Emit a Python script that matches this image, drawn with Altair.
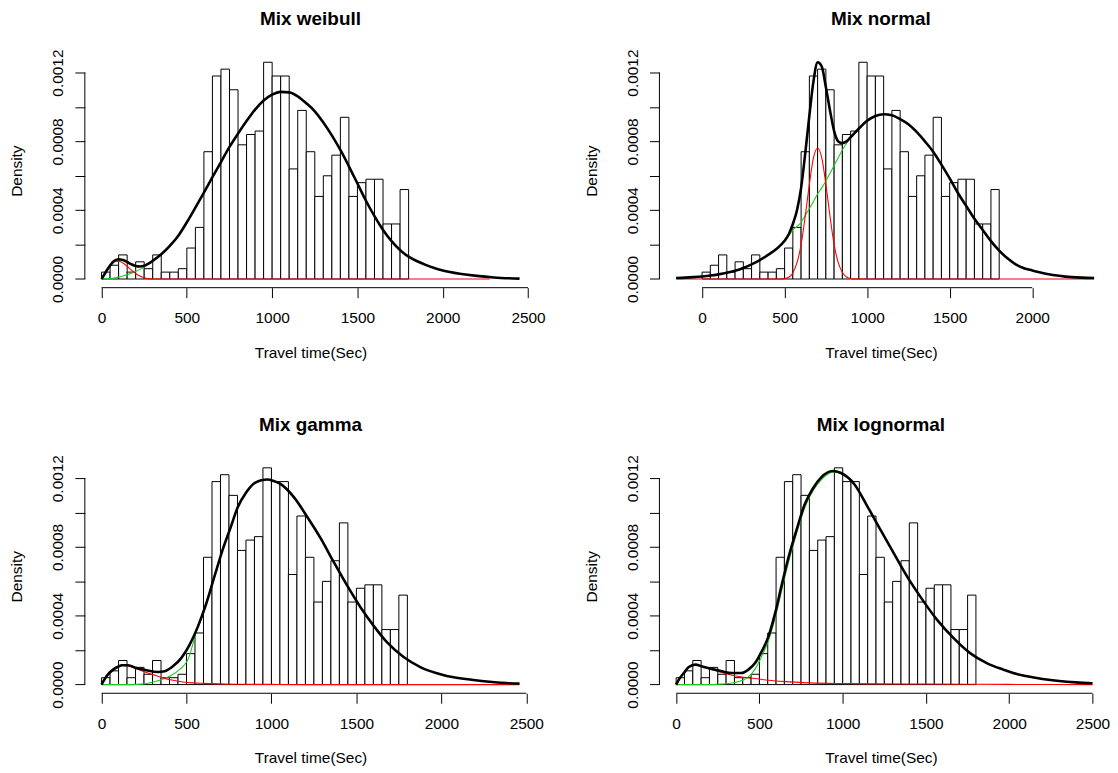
import altair as alt
import pandas as pd

# ---------------- histogram (same data in all four panels) ----------------
bin_start = [0, 50, 100, 150, 200, 250, 300, 350, 400, 450, 500, 550, 600, 650, 700, 750,
             800, 850, 900, 950, 1000, 1050, 1100, 1150, 1200, 1250, 1300, 1350, 1400, 1450,
             1500, 1550, 1600, 1650, 1700, 1750]
bin_width = 50
hist_density = [0.4, 0.8, 1.4, 0.4, 1.0, 0.6, 1.4, 0.4, 0.4, 0.6, 1.8, 3.0, 7.4, 11.8, 12.2,
                11.0, 7.8, 8.4, 8.6, 12.6, 11.8, 11.8, 6.4, 9.8, 7.4, 4.8, 6.0, 7.2, 9.4, 4.8,
                5.6, 5.8, 5.8, 3.2, 3.2, 5.2]  # x 1e-4

# ---------------- Mix weibull ----------------
p1_black_x = [0, 25, 50, 75, 100, 125, 150, 175, 200, 225, 250, 275, 300, 350, 400, 450, 500,
              550, 600, 650, 700, 750, 800, 850, 900, 950, 1000, 1050, 1100, 1150, 1200, 1250,
              1300, 1350, 1400, 1450, 1500, 1550, 1600, 1650, 1700, 1750, 1800, 1850, 1900,
              1950, 2000, 2100, 2200, 2300, 2450]
p1_black = [0, 0.41, 0.79, 1.06, 1.15, 1.10, 0.99, 0.86, 0.76, 0.73, 0.77, 0.89, 1.06, 1.44,
            1.93, 2.52, 3.30, 4.15, 5.02, 5.92, 6.80, 7.68, 8.45, 9.18, 9.85, 10.38, 10.72,
            10.88, 10.85, 10.62, 10.22, 9.75, 9.1, 8.35, 7.5, 6.55, 5.55, 4.55, 3.65, 2.85,
            2.2, 1.68, 1.3, 1.03, 0.82, 0.64, 0.5, 0.31, 0.18, 0.09, 0.02]
p1_red_x = [0, 25, 50, 75, 100, 125, 150, 175, 200, 225, 250, 275, 300, 2275]
p1_red = [0, 0.40, 0.76, 1.00, 1.04, 0.93, 0.74, 0.52, 0.32, 0.17, 0.07, 0.02, 0, 0]
p1_green_x = p1_black_x
p1_green = [0, 0.01, 0.03, 0.06, 0.11, 0.17, 0.25, 0.34, 0.44, 0.56, 0.70, 0.87, 1.06] + p1_black[13:]

# ---------------- Mix normal ----------------
p2_black_x = [-157, -100, -50, 0, 50, 100, 150, 200, 250, 300, 350, 400, 450, 500, 525, 550,
              575, 600, 625, 650, 675, 700, 725, 750, 775, 800, 825, 850, 875, 900, 950, 1000,
              1050, 1100, 1150, 1200, 1250, 1300, 1350, 1400, 1450, 1500, 1550, 1600, 1650,
              1700, 1750, 1800, 1850, 1900, 1950, 2000, 2050, 2100, 2150, 2200, 2300, 2375]
p2_black = [0.06, 0.08, 0.11, 0.15, 0.2, 0.27, 0.36, 0.48, 0.64, 0.85, 1.1, 1.4, 1.75, 2.22,
            2.6, 3.2, 4.0, 5.3, 7.3, 9.5, 11.5, 12.6, 12.35, 11.15, 9.8, 8.6, 8.0, 7.9, 8.0,
            8.24, 8.75, 9.2, 9.48, 9.58, 9.52, 9.3, 9.0, 8.55, 8.0, 7.4, 6.65, 5.85, 5.0, 4.25,
            3.5, 2.85, 2.2, 1.65, 1.2, 0.85, 0.63, 0.5, 0.38, 0.28, 0.2, 0.14, 0.08, 0.06]
p2_red_x = [-157, 475, 500, 525, 550, 575, 600, 625, 650, 675, 700, 725, 750, 775, 800, 825,
            850, 875, 900, 925, 2375]
p2_red = [0, 0, 0.02, 0.1, 0.35, 0.95, 2.0, 3.65, 5.5, 7.05, 7.6, 7.05, 5.5, 3.65, 2.0, 0.95,
          0.38, 0.12, 0.03, 0, 0]
p2_green_x = p2_black_x
p2_green = p2_black[:13] + [2.2, 2.5, 2.85, 3.05, 3.3, 3.7, 4.1, 4.5, 4.95, 5.3, 5.7, 6.15,
                            6.6, 7.05, 7.5, 7.88, 8.2] + p2_black[30:]

# ---------------- Mix gamma ----------------
p3_black_x = [0, 29, 68, 100, 120, 156, 205, 264, 332, 371, 420, 469, 518, 567, 616, 665, 713,
              762, 801, 850, 899, 940, 977, 1010, 1055, 1133, 1212, 1290, 1368, 1446, 1524,
              1603, 1681, 1778, 1876, 1974, 2032, 2100, 2200, 2300, 2400, 2460]
p3_black = [0, 0.48, 0.87, 1.05, 1.12, 1.12, 0.96, 0.83, 0.73, 0.77, 1.06, 1.54, 2.31, 3.37,
            4.7, 6.3, 7.85, 9.2, 10.3, 11.15, 11.7, 11.88, 11.92, 11.85, 11.65, 10.88, 9.73,
            8.5, 7.1, 5.75, 4.5, 3.4, 2.45, 1.6, 1.02, 0.66, 0.5, 0.38, 0.25, 0.15, 0.08, 0.06]
p3_red_x = [0, 29, 68, 100, 120, 156, 205, 244, 303, 361, 420, 479, 537, 600, 700, 800, 1000,
            1200, 2460]
p3_red = [0, 0.48, 0.87, 1.05, 1.11, 1.08, 0.92, 0.77, 0.58, 0.39, 0.25, 0.15, 0.10, 0.07,
          0.04, 0.02, 0.01, 0, 0]
p3_green_x = [0, 150, 200, 250, 283, 342, 400, 459, 508] + p3_black_x[13:]
p3_green = [0, 0, 0.01, 0.04, 0.10, 0.25, 0.48, 0.87, 1.44] + p3_black[13:]

# ---------------- Mix lognormal ----------------
p4_black_x = [0, 16, 46, 76, 116, 155, 215, 275, 335, 390, 434, 474, 514, 554, 594, 633, 672,
              722, 771, 821, 871, 940, 990, 1070, 1149, 1229, 1308, 1388, 1467, 1567, 1666,
              1765, 1865, 1964, 2024, 2100, 2200, 2300, 2400, 2500]
p4_black = [0, 0.29, 0.67, 1.02, 1.16, 1.06, 0.91, 0.77, 0.67, 0.67, 0.87, 1.25, 1.93, 2.79,
            4.14, 5.75, 7.3, 8.96, 10.45, 11.4, 12.05, 12.42, 12.3, 11.65, 10.35, 8.96, 7.61,
            6.26, 5.10, 3.76, 2.7, 1.83, 1.25, 0.87, 0.67, 0.5, 0.33, 0.21, 0.13, 0.08]
p4_red_x = [0, 16, 46, 76, 116, 155, 215, 275, 335, 394, 474, 554, 653, 800, 1000, 1200, 1500,
            2000, 2500]
p4_red = [0, 0.29, 0.67, 1.02, 1.15, 1.04, 0.87, 0.70, 0.54, 0.44, 0.35, 0.25, 0.17, 0.10,
          0.06, 0.04, 0.03, 0.01, 0]
p4_green_x = [0, 200, 250, 300, 350, 390, 434, 474, 514, 554, 594, 633, 672, 722, 771, 821,
              871, 940] + p4_black_x[22:]
p4_green = [0, 0, 0.02, 0.05, 0.12, 0.22, 0.45, 0.9, 1.65, 2.55, 3.85, 5.45, 7.0, 8.75, 10.25,
            11.25, 11.9, 12.35] + p4_black[22:]

titles = ["Mix weibull", "Mix normal", "Mix gamma", "Mix lognormal"]
x_domains = [[-98, 2548], [-258.3, 2424.8], [-98.4, 2558.4], [-100.4, 2559]]
x_tick_values = [[0, 500, 1000, 1500, 2000, 2500], [0, 500, 1000, 1500, 2000],
                 [0, 500, 1000, 1500, 2000, 2500], [0, 500, 1000, 1500, 2000, 2500]]
y_tick_values = [0, 0.0002, 0.0004, 0.0006, 0.0008, 0.0010, 0.0012]
y_domain = [-0.0000504, 0.0013104]
panel_widths = [453.5, 445, 453.5, 445]
H = 235.2

FONT = "Liberation Sans"
curves = [
    (p1_black_x, p1_black, p1_red_x, p1_red, p1_green_x, p1_green),
    (p2_black_x, p2_black, p2_red_x, p2_red, p2_green_x, p2_green),
    (p3_black_x, p3_black, p3_red_x, p3_red, p3_green_x, p3_green),
    (p4_black_x, p4_black, p4_red_x, p4_red, p4_green_x, p4_green),
]


def line_df(xs, ys):
    assert len(xs) == len(ys)
    return pd.DataFrame({"x": xs, "y": [v * 1e-4 for v in ys]})


def panel(i):
    bx, by, rx, ry, gx, gy = curves[i]
    xs = alt.Scale(domain=x_domains[i], nice=False, zero=False)
    ys = alt.Scale(domain=y_domain, nice=False, zero=False)
    xaxis = alt.Axis(values=x_tick_values[i], domain=False, grid=False, tickSize=10,
                     tickColor="black", tickWidth=1, labelFont=FONT, labelFontSize=15.5,
                     labelColor="black", labelPadding=25, labelBaseline="alphabetic",
                     labelFlush=False, labelOverlap=False, format="d",
                     title="Travel time(Sec)", titleFont=FONT, titleFontSize=15.5,
                     titleFontWeight="normal", titleColor="black",
                     titleBaseline="alphabetic", titleY=70, titleX=panel_widths[i] / 2)
    yaxis = alt.Axis(values=y_tick_values, domain=False, grid=False, tickSize=10,
                     tickColor="black", tickWidth=1, labelFont=FONT, labelFontSize=15.5,
                     labelColor="black", labelAngle=270, labelAlign="center",
                     labelBaseline="alphabetic", labelPadding=12, labelOverlap=False,
                     labelFlush=False,
                     labelExpr="abs(round(datum.value*10000)) % 4 == 0 ? format(datum.value, '.4f') : ''",
                     title="Density", titleFont=FONT, titleFontSize=15.5,
                     titleFontWeight="normal", titleColor="black", titleAngle=270,
                     titleBaseline="alphabetic", titleAlign="center", titleX=-63.7,
                     titleY=H / 2)
    X = lambda f: alt.X(f, type="quantitative", scale=xs, axis=xaxis)
    Y = lambda f: alt.Y(f, type="quantitative", scale=ys, axis=yaxis)

    hist_df = pd.DataFrame({"x": bin_start,
                            "x2": [b + bin_width for b in bin_start],
                            "y": [v * 1e-4 for v in hist_density]})
    bars = alt.Chart(hist_df).mark_rect(fill="white", stroke="black", strokeWidth=1).encode(
        x=X("x"), x2="x2", y=Y("y"), y2=alt.datum(0))

    def line(xs_, ys_, color, w):
        return alt.Chart(line_df(xs_, ys_)).mark_line(
            color=color, strokeWidth=w, interpolate="monotone", clip=True).encode(
            x=X("x"), y=Y("y"))

    green = line(gx, gy, "#1ccc1c", 1.1)
    red = line(rx, ry, "#ff0000", 1.1)
    black = line(bx, by, "black", 2.6)

    xline = alt.Chart(pd.DataFrame({"x": [x_tick_values[i][0]], "x2": [x_tick_values[i][-1]]})
                      ).mark_rule(color="black", strokeWidth=1).encode(
        x=X("x"), x2="x2", y=alt.value(H))
    yline = alt.Chart(pd.DataFrame({"y": [y_tick_values[0]], "y2": [y_tick_values[-1]]})
                      ).mark_rule(color="black", strokeWidth=1).encode(
        y=Y("y"), y2="y2", x=alt.value(0))

    return alt.layer(bars, green, red, black, xline, yline).properties(
        width=panel_widths[i], height=H,
        title=alt.TitleParams(titles[i], font=FONT, fontSize=19, fontWeight="bold",
                              color="black", anchor="middle", frame="group",
                              baseline="alphabetic", offset=4.6))


chart = alt.concat(panel(0), panel(1), panel(2), panel(3), columns=2,
                   spacing={"row": 171.5, "column": 123.3}, bounds="flush"
                   ).properties(padding={"left": 1.2, "top": 0, "right": 0, "bottom": 0},
                                background="white"
                   ).configure_view(strokeWidth=0, stroke="transparent")

chart.save("out.html", embed_options={"renderer": "svg", "actions": False})
